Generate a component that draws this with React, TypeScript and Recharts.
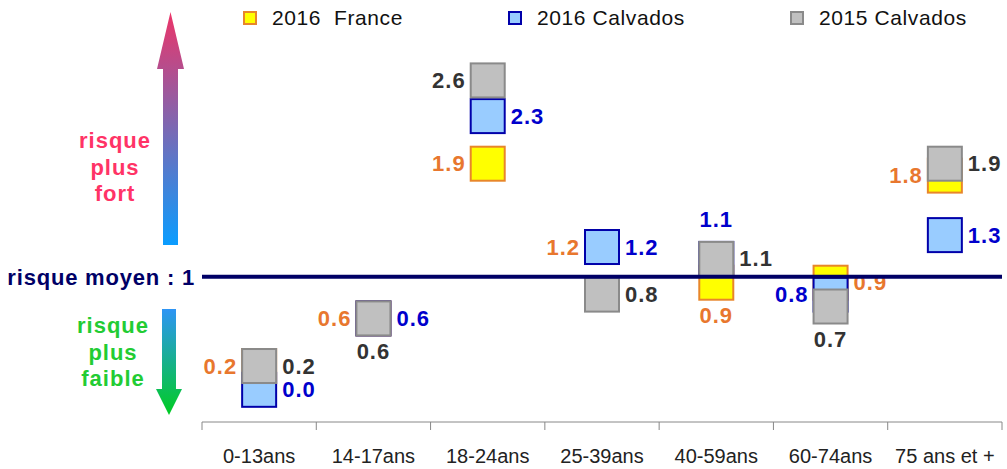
import { ScatterChart, Scatter, XAxis, YAxis, ReferenceLine } from 'recharts';

const categories = ['0-13ans', '14-17ans', '18-24ans', '25-39ans', '40-59ans', '60-74ans', '75 ans et +'];
const france2016 = [0.2, 0.6, 1.9, 1.2, 0.9, 0.9, 1.8];
const calvados2016 = [0.0, 0.6, 2.3, 1.2, 1.1, 0.8, 1.3];
const calvados2015 = [0.2, 0.6, 2.6, 0.8, 1.1, 0.7, 1.9];

// side of the box where each value label sits
const franceSides = ['left', 'left', 'left', 'left', 'bottom', 'right', 'left'];
const calv16Sides = ['right', 'right', 'right', 'right', 'top', 'left', 'right'];
const calv15Sides = ['right', 'bottom', 'left', 'right', 'right', 'bottom', 'right'];

// band edges get a tick mark, band centres get the category name
const axisTicks = [0, 0.5, 1, 1.5, 2, 2.5, 3, 3.5, 4, 4.5, 5, 5.5, 6, 6.5, 7];

const FONT = '"Liberation Sans", Arial, sans-serif';
const BOX = 34;
const HALF = BOX / 2;
const LIFT = 6; // boxes sit a little above their value

const series = [
  { key: 'fr16', name: '2016  France', values: france2016, sides: franceSides, fill: '#FFFF00', stroke: '#E8862A', text: '#E8772E' },
  { key: 'ca16', name: '2016 Calvados', values: calvados2016, sides: calv16Sides, fill: '#99CCFF', stroke: '#0000AA', text: '#0000CC' },
  { key: 'ca15', name: '2015 Calvados', values: calvados2015, sides: calv15Sides, fill: '#C0C0C0', stroke: '#8A8A8A', text: '#333333' },
];

const toRows = (values: number[], sides: string[]) =>
  categories.map((cat, i) => ({ x: i + 0.5, y: values[i], cat, side: sides[i] }));

const makeShape = (s: typeof series[number]) => (props: any) => {
  const { cx, cy, payload } = props;
  const top = cy - LIFT - HALF;
  const mid = cy - LIFT;
  let tx = cx, ty = mid, anchor = 'middle';
  if (payload.side === 'left') { tx = cx - HALF - 5; anchor = 'end'; }
  if (payload.side === 'right') { tx = cx + HALF + 6; anchor = 'start'; }
  if (payload.side === 'top') { ty = top - 22; }
  if (payload.side === 'bottom') { ty = top + BOX + 16; }
  return (
    <g>
      <rect x={cx - HALF} y={top} width={BOX} height={BOX} fill={s.fill} stroke={s.stroke} strokeWidth={2} />
      <text
        x={tx}
        y={ty}
        textAnchor={anchor}
        dominantBaseline="central"
        fill={s.text}
        style={{ fontSize: 22, fontWeight: 'bold', fontFamily: FONT, letterSpacing: 1 }}
      >
        {payload.y.toFixed(1)}
      </text>
    </g>
  );
};

const AxisTick = (props: any) => {
  const { x, y, payload } = props;
  const v = payload.value;
  if (Number.isInteger(v)) {
    return <line x1={x} y1={y} x2={x} y2={y + 8} stroke="#888" strokeWidth={1} />;
  }
  return (
    <text x={x} y={y + 41} textAnchor="middle" fill="#222" style={{ fontSize: 20, fontFamily: FONT }}>
      {categories[Math.floor(v)]}
    </text>
  );
};

function Legend() {
  const widths = [265, 282, 200];
  return (
    <div style={{ position: 'absolute', left: 243, top: 4, display: 'flex', fontFamily: FONT, fontSize: 21, color: '#111' }}>
      {series.map((s, i) => (
        <div key={s.key} style={{ width: widths[i], display: 'flex', alignItems: 'center', height: 28 }}>
          <span style={{ width: 10, height: 10, background: s.fill, border: `2px solid ${s.stroke}`, marginRight: 15 }} />
          <span style={{ whiteSpace: 'pre', letterSpacing: 0.6 }}>{s.name}</span>
        </div>
      ))}
    </div>
  );
}

function SideNotes() {
  const txt = { fontSize: 22, fontWeight: 'bold' as const, fontFamily: FONT, letterSpacing: 1 };
  return (
    <svg width={200} height={469} style={{ position: 'absolute', left: 0, top: 0 }}>
      <defs>
        <linearGradient id="upGrad" x1="0" y1="0" x2="0" y2="1">
          <stop offset="0%" stopColor="#EC3468" />
          <stop offset="100%" stopColor="#0A9DFF" />
        </linearGradient>
        <linearGradient id="downGrad" x1="0" y1="0" x2="0" y2="1">
          <stop offset="0%" stopColor="#2E95F5" />
          <stop offset="100%" stopColor="#00CC22" />
        </linearGradient>
      </defs>
      <path d="M170.5 12 L184 69 L178 69 L178 245 L163 245 L163 69 L157 69 Z" fill="url(#upGrad)" />
      <path d="M162 309 L176 309 L176 389 L182 389 L169 415 L156 389 L162 389 Z" fill="url(#downGrad)" />
      <g textAnchor="middle" dominantBaseline="central" fill="#FF3366" style={txt}>
        <text x={115} y={140}>risque</text>
        <text x={115} y={167}>plus</text>
        <text x={115} y={193}>fort</text>
      </g>
      <g textAnchor="middle" dominantBaseline="central" fill="#22CC33" style={txt}>
        <text x={113} y={325}>risque</text>
        <text x={113} y={352}>plus</text>
        <text x={113} y={378}>faible</text>
      </g>
    </svg>
  );
}

export default function App() {
  return (
    <div style={{ position: 'absolute', left: 0, top: 0, width: 1007, height: 469, background: '#fff', fontFamily: FONT }}>
      <ScatterChart width={1007} height={469} margin={{ top: 15, right: 5, bottom: 0, left: 202 }}>
        <XAxis
          type="number"
          dataKey="x"
          domain={[0, 7]}
          ticks={axisTicks}
          interval={0}
          height={47}
          tickSize={0}
          tickMargin={0}
          tickLine={false}
          tick={<AxisTick />}
          stroke="#888"
        />
        <YAxis type="number" dataKey="y" domain={[-0.22, 3.2]} hide />
        {series.map((s) => (
          <Scatter
            key={s.key}
            name={s.name}
            data={toRows(s.values, s.sides)}
            shape={makeShape(s)}
            isAnimationActive={false}
          />
        ))}
        <ReferenceLine
          y={1}
          stroke="#000066"
          strokeWidth={4}
          zIndex={700}
          label={{ value: 'risque moyen : 1', position: 'left', offset: 7, fill: '#000066', fontSize: 22, fontWeight: 'bold', fontFamily: FONT, letterSpacing: 0.8 }}
        />
      </ScatterChart>
      <SideNotes />
      <Legend />
    </div>
  );
}
